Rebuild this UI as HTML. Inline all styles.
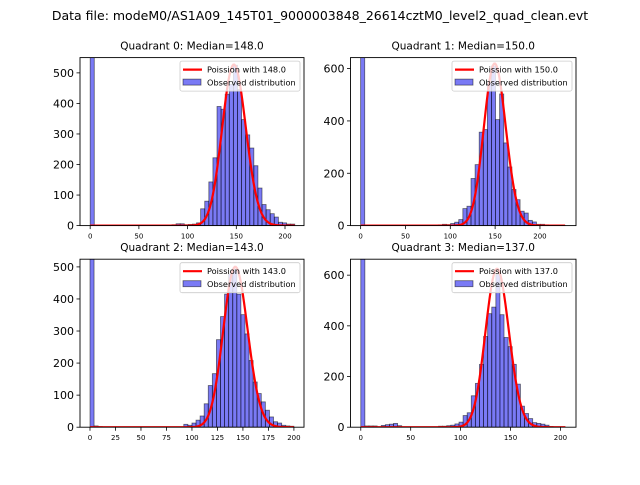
<!DOCTYPE html>
<html><head><meta charset="utf-8"><style>
body{margin:0;background:#fff;}
svg text{font-family:"DejaVu Sans","Liberation Sans",sans-serif;}
</style></head><body>
<svg id="fig" width="640" height="480" viewBox="0 0 640 480" xmlns="http://www.w3.org/2000/svg">
<rect width="640" height="480" fill="#fff"/>
<text x="320" y="20" font-size="12.5" text-anchor="middle">Data file: modeM0/AS1A09_145T01_9000003848_26614cztM0_level2_quad_clean.evt</text>
</svg>
<script>
// ---- data ----
const quadrants = [0, 1, 2, 3];
const medians = [148.0, 150.0, 143.0, 137.0];
const curvePeaks = [527, 619, 500, 625];
const binWidths = [4.2, 4.56, 4.0, 4.1];
const q0Bins = [0,19,20,21,22,23,24,25,26,27,28,29,30,31,32,33,34,35,36,37,38,39,40,41,42,43,44,45,46,47,48,49];
const q0Counts = [2000,2,3,6,6,3,4,5,9,55,80,143,222,390,381,430,462,525,445,347,297,254,196,123,69,52,39,28,11,9,5,5];
const q1Bins = [0,19,20,21,22,23,24,25,26,27,28,29,30,31,32,33,34,35,36,37,38,39,40,41,42,43,44,45,46,47,48,49];
const q1Counts = [2000,3,5,4,8,13,23,65,74,180,233,357,367,545,610,405,503,316,224,138,99,55,48,20,14,5,5,3,2,2,1,1];
const q2Bins = [0,1,2,23,24,25,26,27,28,29,30,31,32,33,34,35,36,37,38,39,40,41,42,43,44,45,46,47,48,49];
const q2Counts = [2000,4,2,9,6,13,22,35,73,130,167,273,345,415,477,493,415,351,291,208,141,105,79,53,32,17,13,6,4,3];
const q3Bins = [0,1,2,3,5,6,7,8,9,19,20,21,22,23,24,25,26,27,28,29,30,31,32,33,34,35,36,37,38,39,40,41,42,43,44,45,46];
const q3Counts = [2000,5,5,5,7,10,12,15,6,4,4,6,8,13,20,46,57,124,173,248,358,448,474,602,444,354,318,248,170,83,54,34,18,15,12,8,3];
const xMaxData = [210, 228, 200, 205];
const xTicks = [[0,50,100,150,200],[0,50,100,150,200],[0,25,50,75,100,125,150,175,200],[0,50,100,150,200]];
const yTicks = [[0,100,200,300,400,500],[0,200,400,600],[0,100,200,300,400,500],[0,200,400,600]];
const xLims = [[-10.45,219.5],[-11.3,240.2],[-9.8,209.9],[-10.3,215.6]];
const yLims = [550, 642, 524, 663];
// ---- layout ----
const boxes = [[80,57.6,304,225.6],[350.5,57.6,576,225.6],[80,259.2,304,427.2],[350.5,259.2,576,427.2]];
const allBins=[q0Bins,q1Bins,q2Bins,q3Bins], allCounts=[q0Counts,q1Counts,q2Counts,q3Counts];
const NS="http://www.w3.org/2000/svg", svg=document.getElementById('fig');
function mk(tag,attrs,parent){const e=document.createElementNS(NS,tag);for(const k in attrs)e.setAttribute(k,attrs[k]);(parent||svg).appendChild(e);return e;}
function lgamma(x){
  if(x<7){let p=1;while(x<7){p*=x;x+=1;}return lgamma(x)-Math.log(p);}
  return (x-0.5)*Math.log(x)-x+0.5*Math.log(2*Math.PI)+1/(12*x)-1/(360*x*x*x);}
function logpmf(k,l){return k*Math.log(l)-l-lgamma(k+1);}
quadrants.forEach(q=>{
  const [x0,y0,x1,y1]=boxes[q];
  const [lo,hi]=xLims[q];
  const X=v=>x0+(v-lo)/(hi-lo)*(x1-x0);
  const Y=v=>y1-v/yLims[q]*(y1-y0);
  const g=mk('g',{});
  
  
  const cid='clip'+q;
  const cp=mk('clipPath',{id:cid},g);mk('rect',{x:x0,y:y0,width:x1-x0,height:y1-y0},cp);
  const plot=mk('g',{'clip-path':'url(#'+cid+')'},g);
  const w=binWidths[q];
  allBins[q].forEach((b,i)=>{
    const c=allCounts[q][i];
    const r=mk('rect',{x:X(b*w),y:Y(c),width:X(w)-X(0),height:Y(0)-Y(c),fill:'rgba(0,0,235,0.52)',stroke:'rgba(0,0,0,0.55)','stroke-width':0.8},plot);
    
    
  });
  const lam=medians[q], mode=Math.floor(lam), ref=logpmf(mode,lam);
  let d='';
  for(let k=0;k<=xMaxData[q];k++){const v=curvePeaks[q]*Math.exp(logpmf(k,lam)-ref);d+=(k?'L':'M')+X(k).toFixed(2)+','+Y(v).toFixed(2);}
  const pl=mk('path',{d:d,fill:'none',stroke:'#ff0000','stroke-width':2.2},plot);
  
  
  const fr=mk('rect',{x:x0,y:y0,width:x1-x0,height:y1-y0,fill:'none',stroke:'#000','stroke-width':0.9},g);
  
  
  xTicks[q].forEach(t=>{
    mk('line',{x1:X(t),x2:X(t),y1:y1,y2:y1+3.5,stroke:'#000','stroke-width':0.8},g);
    const tx=mk('text',{x:X(t),y:y1+13,'font-size':7,'text-anchor':'middle'},g);tx.textContent=t;
    
    
  });
  yTicks[q].forEach(t=>{
    mk('line',{x1:x0,x2:x0-3.5,y1:Y(t),y2:Y(t),stroke:'#000','stroke-width':0.8},g);
    const tx=mk('text',{x:x0-6,y:Y(t)+4,'font-size':11,'text-anchor':'end'},g);tx.textContent=t;
    
    
  });
  const ti=mk('text',{x:(x0+x1)/2,y:y0-8,'font-size':10.5,'text-anchor':'middle'},g);
  ti.textContent='Quadrant '+q+': Median='+medians[q].toFixed(1);
  
  
  const lg=mk('g',{},g);
  
  
  const lx=x1-124, ly=y0+3.5;
  mk('rect',{x:lx,y:ly,width:120,height:30,rx:2,fill:'rgba(255,255,255,0.8)',stroke:'#ccc','stroke-width':0.8},lg);
  mk('line',{x1:lx+3,x2:lx+22,y1:ly+8.5,y2:ly+8.5,stroke:'#ff0000','stroke-width':2.2},lg);
  const t1=mk('text',{x:lx+27,y:ly+11.5,'font-size':8.2},lg);t1.textContent='Poission with '+medians[q].toFixed(1);
  
  
  mk('rect',{x:lx+3,y:ly+18,width:18,height:6,fill:'rgba(0,0,235,0.52)',stroke:'rgba(0,0,0,0.55)','stroke-width':0.8},lg);
  const t2=mk('text',{x:lx+27,y:ly+24.5,'font-size':8.2},lg);t2.textContent='Observed distribution';
  
  
});
</script>
</body></html>
